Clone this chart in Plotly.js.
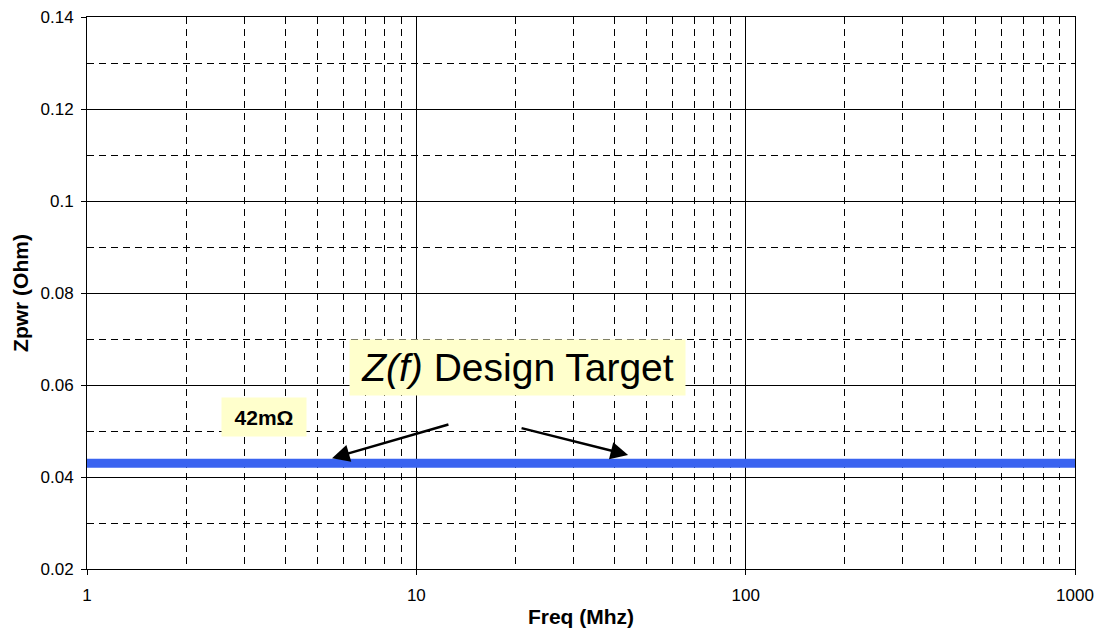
<!DOCTYPE html>
<html>
<head>
<meta charset="utf-8">
<script src="https://cdn.plot.ly/plotly-3.0.1.min.js"></script>
<style>body{margin:0;background:#fff}#chart{width:1100px;height:631px}</style>
</head>
<body>
<div id="chart"></div>
<script>
// Data
const freqMhz = [1, 1000];
const zTarget = [0.043, 0.043];
const yTicks = [0.02, 0.04, 0.06, 0.08, 0.1, 0.12, 0.14];
const yTickLabels = ["0.02", "0.04", "0.06", "0.08", "0.1", "0.12", "0.14"];
const xTicks = [1, 10, 100, 1000];
const xTickLabels = ["1", "10", "100", "1000"];
const labelTarget = "<i>Z(f)</i> Design Target";
const labelValue = "<b>42mΩ</b>";

const font = "Liberation Sans, Arial, sans-serif";

const trace = {
  x: freqMhz, y: zTarget, mode: "lines", type: "scatter",
  line: {color: "#3a63f0", width: 9}, hoverinfo: "skip", showlegend: false
};

const layout = {
  width: 1100, height: 631,
  margin: {l: 87, r: 25, t: 17, b: 62},
  paper_bgcolor: "#fff", plot_bgcolor: "#fff",
  font: {family: font, color: "#000", size: 16},
  xaxis: {
    type: "log", range: [0, 3],
    tickvals: xTicks, ticktext: xTickLabels,
    showline: true, linecolor: "#000", linewidth: 1, mirror: true,
    ticks: "outside", ticklen: 5, tickcolor: "#000",
    ticklabelstandoff: 6,
    showgrid: true, gridcolor: "#000", gridwidth: 1,
    zeroline: false,
    minor: {dtick: "D1", showgrid: true, gridcolor: "#000", gridwidth: 1, griddash: "7px,5px", ticks: ""},
    title: {text: "<b>Freq (Mhz)</b>", font: {size: 21, family: font}, standoff: 4},
    tickfont: {size: 17}
  },
  yaxis: {
    range: [0.02, 0.14],
    tickvals: yTicks, ticktext: yTickLabels,
    showline: true, linecolor: "#000", linewidth: 1, mirror: true,
    ticks: "outside", ticklen: 5, tickcolor: "#000",
    ticklabelstandoff: 4,
    showgrid: true, gridcolor: "#000", gridwidth: 1,
    zeroline: false,
    minor: {dtick: 0.01, showgrid: true, gridcolor: "#000", gridwidth: 1, griddash: "7px,5px", ticks: ""},
    title: {text: "<b>Zpwr (Ohm)</b>", font: {size: 21, family: font}, standoff: 6},
    tickfont: {size: 17}
  },
  annotations: [
    {
      xref: "paper", yref: "paper",
      x: (221 - 87) / 988, y: (569 - 436.5) / 552,
      text: labelValue, showarrow: false,
      font: {size: 21, family: font, color: "#000"},
      bgcolor: "#ffffcc", width: 82, height: 36, align: "center", valign: "middle"
    },
    {
      xref: "paper", yref: "paper",
      x: (517.5 - 87) / 988, y: (569 - 395.5) / 552,
      text: labelTarget, showarrow: false,
      font: {size: 39, family: font, color: "#000"},
      bgcolor: "#ffffcc", width: 333, height: 53, align: "center", valign: "middle"
    },
    {
      xref: "x", yref: "y", axref: "x", ayref: "y",
      x: 0.744, y: 0.0441, ax: 1.102, ay: 0.0515,
      text: "", showarrow: true, arrowhead: 2, arrowsize: 1.4, arrowwidth: 2.5, arrowcolor: "#000"
    },
    {
      xref: "x", yref: "y", axref: "x", ayref: "y",
      x: 1.643, y: 0.0448, ax: 1.315, ay: 0.0507,
      text: "", showarrow: true, arrowhead: 2, arrowsize: 1.4, arrowwidth: 2.5, arrowcolor: "#000"
    }
  ]
};

Plotly.newPlot("chart", [trace], layout, {displayModeBar: false, staticPlot: true});
</script>
</body>
</html>
